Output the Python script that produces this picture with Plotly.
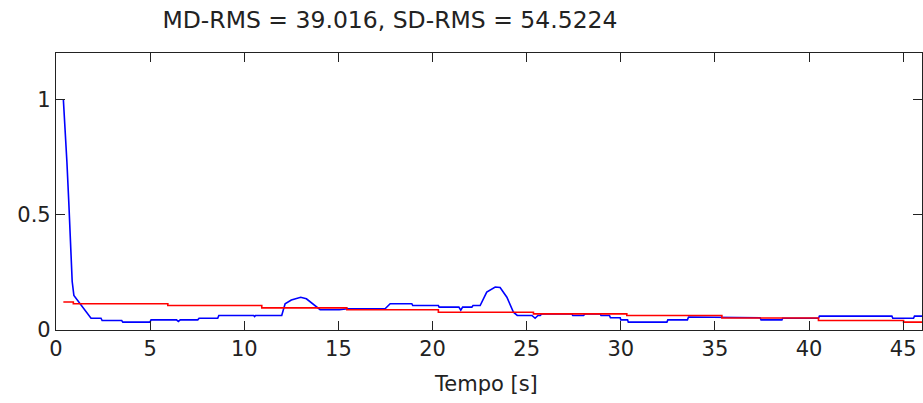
import plotly.graph_objects as go

# Blue series (time [s], value)
blue_t = [0.39, 0.47, 0.58, 0.68, 0.78, 0.86, 0.95, 1.86, 2.39, 2.45, 3.49, 3.55, 4.99, 5.05,
          6.4, 6.5, 6.6, 7.53, 7.6, 8.59, 8.65, 10.5, 10.55, 10.6, 11.99, 12.17, 12.5, 13.0,
          13.3, 13.76, 14.03, 15.05, 15.5, 17.48, 17.75, 18.9, 18.95, 20.31, 20.35, 21.4,
          21.5, 21.6, 22.09, 22.15, 22.53, 22.88, 23.33, 23.59, 23.95, 24.3, 24.5, 25.28,
          25.45, 25.6, 25.72, 25.8, 27.4, 27.45, 28.02, 28.1, 28.9, 28.95, 29.4, 29.45,
          29.97, 30.0, 30.36, 30.4, 32.45, 32.5, 33.54, 33.6, 35.37, 35.4, 37.4, 37.45,
          38.56, 38.6, 40.5, 40.55, 44.4, 44.45, 45.55, 45.6, 46.0]
blue_v = [1.0, 0.896, 0.727, 0.553, 0.384, 0.21, 0.15, 0.051, 0.051, 0.041, 0.041, 0.034, 0.034, 0.044,
          0.044, 0.037, 0.044, 0.044, 0.051, 0.051, 0.063, 0.063, 0.058, 0.063, 0.063, 0.114, 0.13, 0.142,
          0.135, 0.106, 0.088, 0.088, 0.092, 0.092, 0.114, 0.114, 0.106, 0.106, 0.099, 0.099,
          0.086, 0.099, 0.099, 0.106, 0.106, 0.164, 0.186, 0.184, 0.142, 0.077, 0.063, 0.063,
          0.051, 0.063, 0.063, 0.070, 0.070, 0.063, 0.063, 0.070, 0.070, 0.063, 0.063, 0.053,
          0.053, 0.044, 0.044, 0.034, 0.034, 0.044, 0.044, 0.056, 0.056, 0.053, 0.053, 0.044,
          0.044, 0.051, 0.051, 0.060, 0.060, 0.051, 0.051, 0.060, 0.060]

# Red series (step changes)
red_t = [0.39, 0.92, 5.94, 10.93, 15.45, 20.31, 25.36, 30.32, 35.37, 40.5, 45.02, 46.0]
red_v = [0.121, 0.114, 0.106, 0.096, 0.088, 0.077, 0.070, 0.063, 0.052, 0.041, 0.034, 0.034]

x_ticks = [0, 5, 10, 15, 20, 25, 30, 35, 40, 45]
y_ticks = [0, 0.5, 1]
y_tick_text = ["0", "0.5", "1"]

title_text = "MD-RMS = 39.016, SD-RMS = 54.5224"
x_label = "Tempo [s]"

FONT = "DejaVu Sans"

fig = go.Figure()
fig.add_trace(go.Scatter(x=blue_t, y=blue_v, mode="lines",
                         line=dict(color="#0000ff", width=1.6), showlegend=False))
fig.add_trace(go.Scatter(x=red_t, y=red_v, mode="lines", line_shape="hv",
                         line=dict(color="#ff0000", width=1.6), showlegend=False))

fig.update_layout(
    width=923, height=403,
    margin=dict(l=56, r=1, t=53, b=73),
    paper_bgcolor="white", plot_bgcolor="white",
    font=dict(family=FONT, size=21, color="#222222"),
    title=dict(text=title_text, x=390 / 923, xref="container", xanchor="center",
               y=1 - 20 / 403, yref="container", yanchor="middle",
               font=dict(family=FONT, size=23.5, color="#222222")),
)
fig.update_xaxes(range=[0, 46], tickvals=x_ticks, ticks="inside", ticklen=9,
                 tickcolor="#222222", showline=True, linecolor="#222222", linewidth=1.2,
                 mirror="ticks", showgrid=False, zeroline=False,
                 tickfont=dict(family=FONT, size=21, color="#222222"))
fig.update_yaxes(range=[0, 1.2], tickvals=y_ticks, ticktext=y_tick_text, ticks="inside",
                 ticklen=9, tickcolor="#222222", showline=True, linecolor="#222222",
                 linewidth=1.2, mirror="ticks", showgrid=False, zeroline=False,
                 tickfont=dict(family=FONT, size=21, color="#222222"))
fig.add_annotation(text=x_label, xref="paper", yref="paper", x=0.497,
                   y=-(383 - 329.5) / 276.5, xanchor="center", yanchor="middle",
                   showarrow=False, font=dict(family=FONT, size=21, color="#222222"))

fig.write_html("out.html", config={"displayModeBar": False},
               post_script="document.body.style.margin='0';")
